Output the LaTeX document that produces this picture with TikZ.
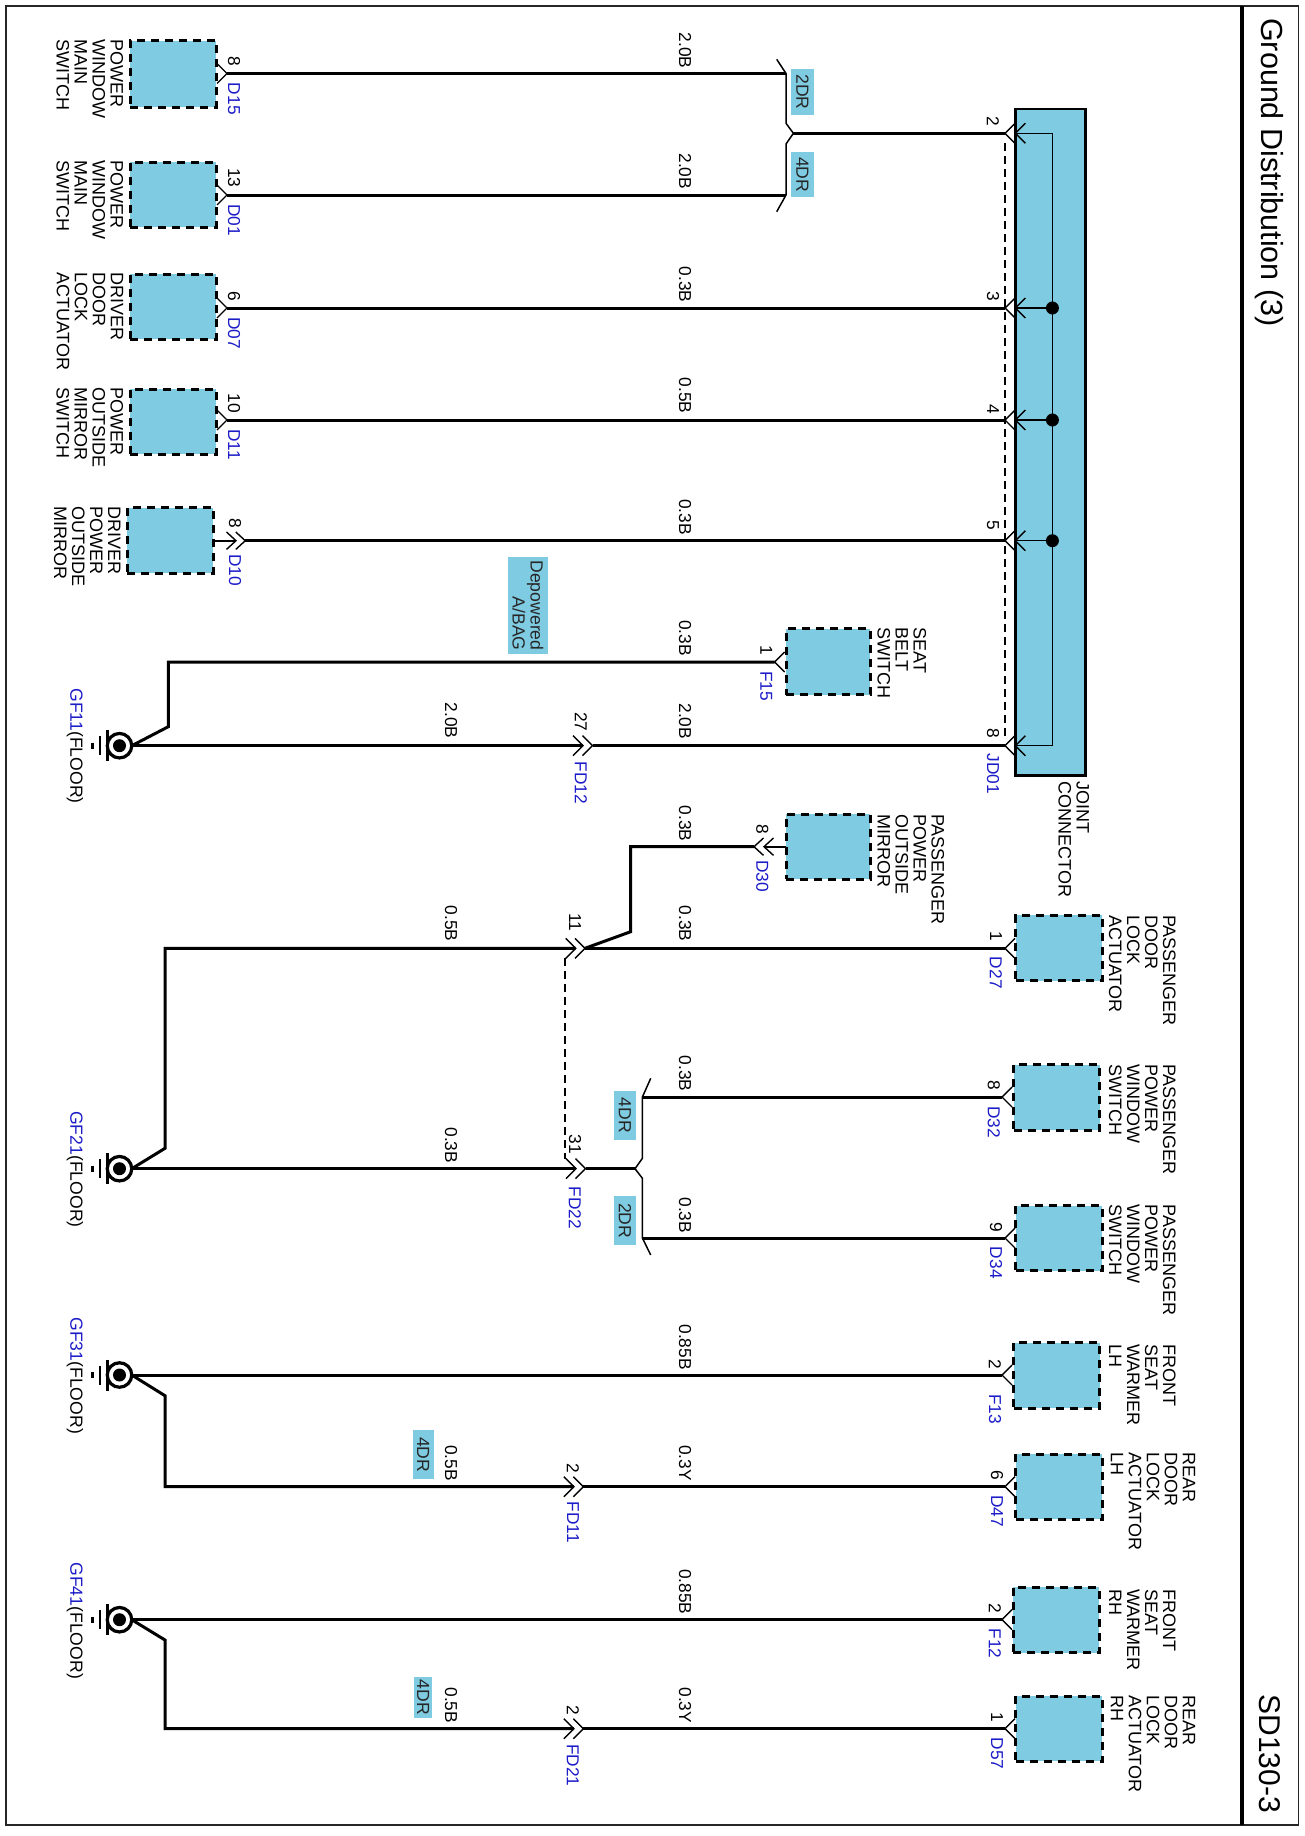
\documentclass[tikz,border=0pt]{standalone}
\usepackage{fontspec}
\setmainfont{Liberation Sans}
\usetikzlibrary{fit,calc}
\definecolor{cy}{HTML}{7FCCE2}
\definecolor{idblue}{HTML}{1C1CC8}
\newcounter{lb}
\tikzset{
  wire/.style={line width=3pt,line join=miter},
  thinw/.style={line width=1.5pt,line join=miter},
  chev/.style={line width=1.4pt,line join=miter},
  busline/.style={line width=1.4pt,draw=black},
  dashw/.style={line width=1.1pt,dash pattern=on 8pt off 5pt},
  devbox/.style={fill=cy,draw=black,line width=3pt,dash pattern=on 8pt off 6pt,inner sep=0pt,outer sep=0pt},
  devtext/.style={rotate=-90,anchor=north west,align=left,inner sep=0pt,font=\fontsize{18}{18}\selectfont},
  rotw/.style={rotate=-90,anchor=west,inner sep=0pt,font=\fontsize{17.3}{18}\selectfont},
  rote/.style={rotate=-90,anchor=east,inner sep=0pt,font=\fontsize{17.3}{18}\selectfont},
  tagbox/.style={fill=cy,inner sep=0pt,outer sep=0pt},
  tagtext/.style={rotate=-90,anchor=center,align=right,inner sep=0pt,font=\fontsize{17.6}{18}\selectfont,text=black!85},
  gring/.style={circle,draw=black,fill=white,line width=3.2pt,minimum size=24.5pt,inner sep=0pt,outer sep=0pt},
  gdot/.style={circle,fill=black,minimum size=13pt,inner sep=0pt,outer sep=0pt},
}
\newcommand{\dev}[5]{\node[devbox,fit={(#2,#3)(#4,#5)}] (#1) {};}
\newcommand{\dtx}[3]{\stepcounter{lb}\node[devtext] (t\arabic{lb}) at (#1,#2) {#3};}
\newcommand{\wl}[3]{\stepcounter{lb}\node[rotw] (t\arabic{lb}) at (#1,#2) {#3};}
\newcommand{\pn}[3]{\stepcounter{lb}\node[rote] (t\arabic{lb}) at (#1,#2) {#3};}
\newcommand{\pid}[3]{\stepcounter{lb}\node[rotw,text=idblue] (t\arabic{lb}) at (#1,#2) {#3};}
\newcommand{\pin}[4]{\coordinate (#1) at (#2,#3);\draw[chev] ($(#1)+(-10*#4,-10)$) -- (#1) -- ($(#1)+(-10*#4,10)$);}
\newcommand{\pinS}[4]{\coordinate (#1) at (#2,#3);\draw[chev] ($(#1)+(-9.5*#4,-8.7)$) -- (#1) -- ($(#1)+(-9.5*#4,8.7)$);}
\newcommand{\tagb}[5]{\stepcounter{lb}\node[tagbox,fit={(#1,#2)(#3,#4)}] (b\arabic{lb}) {};\node[tagtext] (t\arabic{lb}) at (b\arabic{lb}.center) {#5};}
\newcommand{\gnd}[2]{%
  \node[gring] (#1) at (119.5,#2) {};
  \node[gdot] (#1d) at (119.5,#2) {};
  \coordinate (#1a) at (107.7,#2);\coordinate (#1b) at (100,#2);\coordinate (#1c) at (92.3,#2);
  \draw[line width=3pt] ($(#1a)+(0,-15.5)$) -- ($(#1a)+(0,15.5)$);
  \draw[line width=2.5pt] ($(#1b)+(0,-9.5)$) -- ($(#1b)+(0,9.5)$);
  \draw[line width=2.5pt] ($(#1c)+(0,-3)$) -- ($(#1c)+(0,3)$);
}
\newcommand{\gl}[2]{\stepcounter{lb}\node[rotw,font=\fontsize{17.6}{18}\selectfont] (t\arabic{lb}) at (75,#1) {\textcolor{idblue}{#2}(FLOOR)};}
\begin{document}
\begin{tikzpicture}[x=1pt,y=-1pt]
\useasboundingbox (0,0) rectangle (1305,1836);
\fill[white] (0,0) rectangle (1305,1836);
% frame
\coordinate (fa) at (6.2,6);\coordinate (fb) at (1298.6,1825);
\draw[line width=1.5pt,black!85] (fa) rectangle (fb);
\coordinate (ba) at (1242,6);\coordinate (bb) at (1242,1825);
\draw[line width=4.2pt] (ba) -- (bb);
\node[rotate=-90,anchor=west,inner sep=0pt,font=\fontsize{30.5}{30}\selectfont] (title) at (1269.5,18) {Ground Distribution (3)};
\node[rotate=-90,anchor=east,inner sep=0pt,font=\fontsize{30}{30}\selectfont] (code) at (1269.5,1813) {SD130-3};
% device boxes
\dev{D15}{130}{40.7}{216}{107.3}
\dev{D01}{130}{162}{216}{227.3}
\dev{D07}{130}{274}{216}{339}
\dev{D11}{130}{389}{216}{454}
\dev{D10}{127.3}{507.7}{213.3}{573.3}
\dev{F15}{786.3}{628.7}{870.3}{694.7}
\dev{D30}{786.3}{814}{870.3}{879}
\dev{D27}{1015.8}{915}{1102}{980.7}
\dev{D32}{1013.7}{1064.7}{1099.8}{1130}
\dev{D34}{1015.8}{1205.7}{1102}{1270.7}
\dev{F13}{1013.7}{1342.7}{1099.8}{1408}
\dev{D47}{1015.8}{1454}{1102}{1519.3}
\dev{F12}{1013}{1587.3}{1099}{1652.7}
\dev{D57}{1015.8}{1696}{1102}{1761.3}
% joint connector
\node[fill=cy,draw=black,line width=2.8pt,inner sep=0pt,outer sep=0pt,fit={(1015.4,109)(1085.7,775.7)}] (JD) {};
% device texts
\dtx{123.5}{39.5}{POWER\\WINDOW\\MAIN\\SWITCH}
\dtx{123.5}{160.7}{POWER\\WINDOW\\MAIN\\SWITCH}
\dtx{123.5}{272.7}{DRIVER\\DOOR\\LOCK\\ACTUATOR}
\dtx{123.5}{387.7}{POWER\\OUTSIDE\\MIRROR\\SWITCH}
\dtx{120.6}{506}{DRIVER\\POWER\\OUTSIDE\\MIRROR}
\dtx{926.4}{627.7}{SEAT\\BELT\\SWITCH}
\dtx{1089.5}{781.7}{JOINT\\CONNECTOR}
\dtx{944.3}{814}{PASSENGER\\POWER\\OUTSIDE\\MIRROR}
\dtx{1176}{915}{PASSENGER\\DOOR\\LOCK\\ACTUATOR}
\dtx{1176}{1064}{PASSENGER\\POWER\\WINDOW\\SWITCH}
\dtx{1176}{1204.3}{PASSENGER\\POWER\\WINDOW\\SWITCH}
\dtx{1176}{1344.3}{FRONT\\SEAT\\WARMER\\LH}
\dtx{1195.5}{1452.7}{REAR\\DOOR\\LOCK\\ACTUATOR\\LH}
\dtx{1176}{1589.3}{FRONT\\SEAT\\WARMER\\RH}
\dtx{1195.5}{1695}{REAR\\DOOR\\LOCK\\ACTUATOR\\RH}
% tags
\tagb{791}{68.7}{814}{115}{2DR}
\tagb{791}{152.3}{814}{197.3}{4DR}
\tagb{508}{556.7}{548}{654.3}{Depowered\\A/BAG}
\tagb{614}{1091}{636}{1140}{4DR}
\tagb{614}{1196.3}{636}{1245.3}{2DR}
\tagb{412.5}{1430}{434}{1479.3}{4DR}
\tagb{414}{1677.3}{432.4}{1717.7}{4DR}
% grounds
\gnd{GFa}{745.7}
\gnd{GFb}{1168.7}
\gnd{GFc}{1375}
\gnd{GFd}{1619.7}
\gl{688.3}{GF11}
\gl{1111}{GF21}
\gl{1317.3}{GF31}
\gl{1562.3}{GF41}
% pins at devices
\pin{pD15}{227}{73.5}{1}
\pin{pD01}{227}{195}{1}
\pin{pD07}{227}{308}{1}
\pin{pD11}{227}{420}{1}
\pin{pF15}{774.7}{662}{-1}
\pin{pD27}{1005}{948.3}{-1}
\pin{pD32}{1002}{1097}{-1}
\pin{pD34}{1005}{1238}{-1}
\pin{pF13}{1002}{1375}{-1}
\pin{pD47}{1005}{1486.7}{-1}
\pin{pF12}{1002}{1619.7}{-1}
\pin{pD57}{1005}{1728.7}{-1}
% D10 double chevron
\pinS{pD10a}{236}{540.7}{1}
\pinS{pD10b}{245.3}{540.7}{1}
% D30 double chevron
\pinS{pD30a}{764}{846.7}{-1}
\pinS{pD30b}{754}{846.7}{-1}
% inline connectors
\pin{FD12a}{583}{745.7}{1}\pin{FD12b}{592.5}{745.7}{1}
\pin{C11a}{575.7}{948.3}{1}\pin{C11b}{585}{948.3}{1}
\pin{FD22a}{576}{1168.7}{1}\pin{FD22b}{585.5}{1168.7}{1}
\pin{FD11a}{573.8}{1486.7}{1}\pin{FD11b}{583.4}{1486.7}{1}
\pin{FD21a}{573.8}{1728.7}{1}\pin{FD21b}{583.4}{1728.7}{1}
% joint pins
\pin{pJ2}{1005}{133.3}{-1}\pin{iJ2}{1015.4}{133.3}{-1}
\pin{pJ3}{1005}{308}{-1}\pin{iJ3}{1015.4}{308}{-1}
\pin{pJ4}{1005}{420}{-1}\pin{iJ4}{1015.4}{420}{-1}
\pin{pJ5}{1005}{540.7}{-1}\pin{iJ5}{1015.4}{540.7}{-1}
\pin{pJ8}{1005}{745.7}{-1}\pin{iJ8}{1015.4}{745.7}{-1}
% joint inner bus
\coordinate (bus2) at (1052.4,133.3);\coordinate (bus8) at (1052.4,745.7);
\coordinate (dot3) at (1052.4,308);\coordinate (dot4) at (1052.4,420);\coordinate (dot5) at (1052.4,540.7);
\draw[busline] (iJ2) -- (bus2) -- (bus8) -- (iJ8);
\draw[busline] (iJ3) -- (dot3);\draw[busline] (iJ4) -- (dot4);\draw[busline] (iJ5) -- (dot5);
\fill (dot3) circle [radius=6.5pt];\fill (dot4) circle [radius=6.5pt];\fill (dot5) circle [radius=6.5pt];
% dashed shorting lines
\coordinate (dsA) at (1005,143.3);\coordinate (dsB) at (1005,735.7);
\draw[dashw] (dsA) -- (dsB);
\coordinate (dsC) at (565,958.3);\coordinate (dsD) at (565,1158.7);
\draw[dashw] (dsC) -- (dsD);
% split A
\coordinate (a0) at (776.7,59.3);\coordinate (a1) at (786,73.5);\coordinate (a2) at (786,123.3);\coordinate (a3) at (793.4,133.3);
\coordinate (a4) at (786,144);\coordinate (a5) at (786,195);\coordinate (a6) at (776.7,211.7);
\draw[thinw] (a0) -- (a1) -- (a2) -- (a3) -- (a4) -- (a5) -- (a6);
\draw[wire] (pD15) -- (a1);
\draw[wire] (pD01) -- (a5);
\draw[wire] (a3) -- (pJ2);
\draw[wire] (pD07) -- (pJ3);
\draw[wire] (pD11) -- (pJ4);
\draw[wire] (pD10b) -- (pJ5);
\draw[line width=2.4pt] (D10.east |- pD10a) -- (pD10a);
% seat belt / GF11
\coordinate (g1a) at (168.3,726.7);\coordinate (g1b) at (168.3,662);
\draw[wire] (GFa.east) -- (g1a) -- (g1b) -- (pF15);
\draw[wire] (GFa.east) -- (FD12a);
\draw[wire] (FD12b) -- (pJ8);
% D30 branch
\draw[line width=2.4pt] (D30.west |- pD30a) -- (pD30a);
\coordinate (k1) at (630.7,846.7);\coordinate (k2) at (630.7,931.7);
\draw[wire] (pD30b) -- (k1) -- (k2) -- (C11b);
\draw[wire] (C11b) -- (pD27);
% GF21
\coordinate (g2a) at (165,1148.3);\coordinate (g2b) at (165,948.3);
\draw[wire] (GFb.east) -- (g2a) -- (g2b) -- (C11a);
\draw[wire] (GFb.east) -- (FD22a);
\coordinate (s0) at (635,1168.7);\coordinate (s1) at (642.4,1158.3);\coordinate (s2) at (642.4,1097);\coordinate (s3) at (650.7,1078.3);
\coordinate (s4) at (642.4,1178.3);\coordinate (s5) at (642.4,1238);\coordinate (s6) at (650.7,1255);
\draw[thinw] (s3) -- (s2) -- (s1) -- (s0) -- (s4) -- (s5) -- (s6);
\draw[wire] (FD22b) -- (s0);
\draw[wire] (s2) -- (pD32);
\draw[wire] (s5) -- (pD34);
% GF31
\draw[wire] (GFc.east) -- (pF13);
\coordinate (g3a) at (165,1395.7);\coordinate (g3b) at (165,1486.7);
\draw[wire] (GFc.east) -- (g3a) -- (g3b) -- (FD11a);
\draw[wire] (FD11b) -- (pD47);
% GF41
\draw[wire] (GFd.east) -- (pF12);
\coordinate (g4a) at (165,1640);\coordinate (g4b) at (165,1728.7);
\draw[wire] (GFd.east) -- (g4a) -- (g4b) -- (FD21a);
\draw[wire] (FD21b) -- (pD57);
% wire labels
\wl{685}{32.7}{2.0B}
\wl{685}{153.3}{2.0B}
\wl{685}{266.7}{0.3B}
\wl{685}{377.7}{0.5B}
\wl{685}{499}{0.3B}
\wl{685}{620}{0.3B}
\wl{685}{703.3}{2.0B}
\wl{451}{702.7}{2.0B}
\wl{685}{805.7}{0.3B}
\wl{451}{905.5}{0.5B}
\wl{685}{905.5}{0.3B}
\wl{451}{1127.3}{0.3B}
\wl{685}{1055.7}{0.3B}
\wl{685}{1197.3}{0.3B}
\wl{685}{1324.3}{0.85B}
\wl{451}{1445}{0.5B}
\wl{685}{1445}{0.3Y}
\wl{685}{1569}{0.85B}
\wl{451}{1687.3}{0.5B}
\wl{685}{1687.3}{0.3Y}
% pin numbers and ids
\pn{234}{66.7}{8}\pid{234}{82.7}{D15}
\pn{234}{187.7}{13}\pid{234}{204}{D01}
\pn{234}{301.7}{6}\pid{234}{317.3}{D07}
\pn{234}{413.3}{10}\pid{234}{429}{D11}
\pn{235}{528}{8}\pid{235}{554}{D10}
\pn{766.3}{655}{1}\pid{766.3}{671}{F15}
\pn{581}{731.7}{27}\pid{581}{761.7}{FD12}
\pn{993}{126.7}{2}
\pn{993}{301.7}{3}
\pn{993}{414.3}{4}
\pn{993}{530.7}{5}
\pn{993}{738.3}{8}\pid{993}{753.3}{JD01}
\pn{762.2}{834}{8}\pid{762.2}{860}{D30}
\pn{996}{941}{1}\pid{996}{956.7}{D27}
\pn{575}{931.7}{11}
\pn{575}{1154.3}{31}\pid{575}{1186.7}{FD22}
\pn{993.8}{1090.7}{8}\pid{993.8}{1106}{D32}
\pn{996}{1232.3}{9}\pid{996}{1246.7}{D34}
\pn{995}{1369}{2}\pid{995}{1394}{F13}
\pn{997}{1480.7}{6}\pid{997}{1495}{D47}
\pn{995}{1613.3}{2}\pid{995}{1628.3}{F12}
\pn{997}{1722.3}{1}\pid{997}{1737.3}{D57}
\pn{573}{1473.3}{2}\pid{573}{1501.7}{FD11}
\pn{573}{1715}{2}\pid{573}{1744}{FD21}
\end{tikzpicture}
\end{document}
